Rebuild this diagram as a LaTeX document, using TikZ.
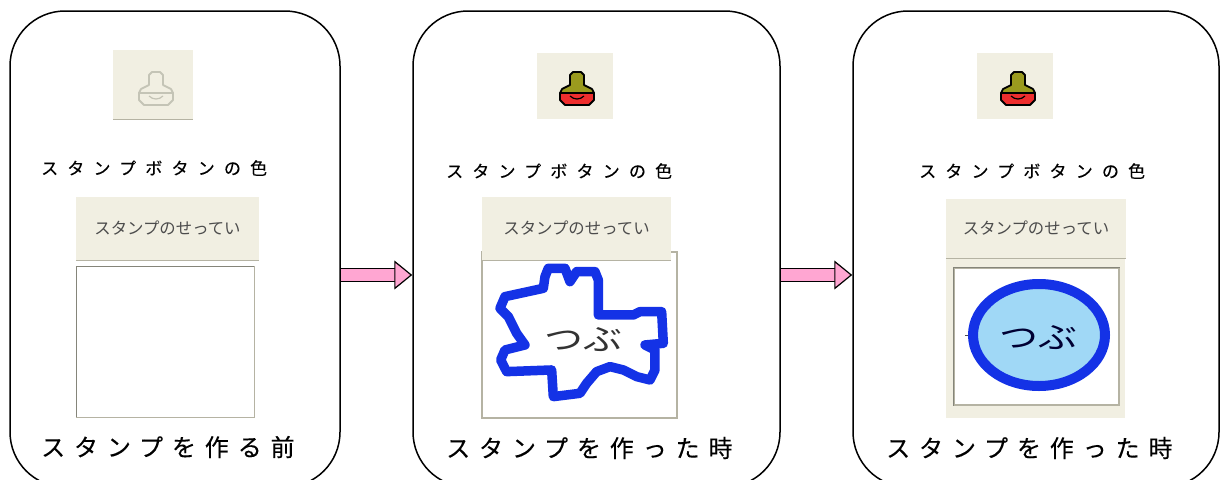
\documentclass[tikz,border=0pt]{standalone}
\usepackage{fontspec}
\usetikzlibrary{arrows.meta}
\newfontfamily\capfont[LetterSpace=54,FakeBold=0.3]{Noto Sans CJK JP}
\newfontfamily\capbigfont[LetterSpace=37,FakeBold=0.2]{Noto Sans CJK JP}
\newfontfamily\uifont{Noto Sans CJK JP}
\definecolor{btnbeige}{HTML}{F1EFE2}
\definecolor{btnedge}{HTML}{B5B3A3}
\definecolor{canvasedge}{HTML}{85857A}
\definecolor{arrowpink}{HTML}{FFA6D2}
\definecolor{stampolive}{HTML}{9A9A1E}
\definecolor{stampred}{HTML}{EE2E2E}
\definecolor{offgrey}{HTML}{C4C4B6}
\definecolor{stampblue}{HTML}{1432E6}
\definecolor{stampsky}{HTML}{A0D8F6}
\tikzset{
	panelbox/.style  = {shape=rectangle, rounded corners=55pt, draw, line width=1.5pt,
		inner sep=0pt, minimum height=476pt},
	iconbtn/.style   = {shape=rectangle, fill=btnbeige, inner sep=0pt},
	setbtn/.style    = {shape=rectangle, fill=btnbeige, inner sep=0pt,
		font=\uifont\fontsize{16.4}{17}\selectfont, text=black!70},
	canvasbox/.style = {shape=rectangle, draw=btnedge, fill=white, inner sep=0pt},
	capsmall/.style  = {anchor=west, inner sep=0pt, font=\capfont\fontsize{17}{18}\selectfont},
	capbig/.style    = {anchor=west, inner sep=0pt, font=\capbigfont\fontsize{24}{26}\selectfont},
	tsubu/.style     = {inner sep=0pt, transform shape, xscale=1.3, font=\uifont\fontsize{30}{32}\selectfont},
	pinkarrow/.style = {draw, double=arrowpink, double distance=12pt, line width=1.2pt,
		-{Triangle[length=18pt, width=29pt, fill=arrowpink, line width=1.2pt]}},
	pics/stampicon/.style n args = {3}{code={
		\draw [#3, fill=#2, line width=1.8pt, line join=round]
			(-17,5) -- (-17,12) -- (-12,17) -- (12,17) -- (17,12) -- (17,5) -- cycle;
		\draw [#3, fill=#1, line width=1.8pt, line join=round]
			(-4,-16) -- (4,-16) -- (7,-13) -- (7,-3) -- (15,1) -- (17,5) -- (-17,5)
			-- (-15,1) -- (-7,-3) -- (-7,-13) -- cycle;
		\draw [#3, line width=1.2pt] (-7,8) .. controls (-3,12) and (3,12) .. (7,8);
	}}
}
\begin{document}
\begin{tikzpicture}[x=1pt,y=-1pt]
	\useasboundingbox (0,0) rectangle (1220,479);

	% the three panels
	\node [panelbox, minimum width=330pt] (panela) at (175,249) {};
	\node [panelbox, minimum width=367pt] (panelb) at (596.5,249) {};
	\node [panelbox, minimum width=366pt] (panelc) at (1036,249) {};

	% stamp buttons
	\node [iconbtn, minimum width=80pt, minimum height=69pt] (stampa) at (153,84.5) {};
	\node [iconbtn, minimum width=76pt, minimum height=66pt] (stampb) at (575,86) {};
	\node [iconbtn, minimum width=76pt, minimum height=66pt] (stampc) at (1015,86) {};
	\draw [btnedge, line width=1.2pt] (stampa.south west) -- (stampa.south east);
	\pic at (156,88) {stampicon={btnbeige}{btnbeige}{offgrey}};
	\pic at (577,88) {stampicon={stampolive}{stampred}{black}};
	\pic at (1018,88) {stampicon={stampolive}{stampred}{black}};

	% captions
	\node [capsmall] (capa) at (41,168) {スタンプボタンの色};
	\node [capsmall] (capb) at (446,171) {スタンプボタンの色};
	\node [capsmall] (capc) at (919,171) {スタンプボタンの色};
	\node [capbig] (titlea) at (41,447) {スタンプを作る前};
	\node [capbig] (titleb) at (446,448) {スタンプを作った時};
	\node [capbig] (titlec) at (886,448) {スタンプを作った時};

	% canvas areas
	\node [canvasbox, minimum width=178pt, minimum height=151pt] (canvasa) at (165,341.5) {};
	\node [canvasbox, line width=1.2pt, minimum width=195pt, minimum height=166pt] (canvasb) at (579.5,335) {};
	\node [iconbtn, minimum width=179pt, minimum height=160pt] (framec) at (1035.5,338) {};
	\node [canvasbox, line width=1.2pt, minimum width=165pt, minimum height=137pt] (canvasc) at (1036.5,336.5) {};
	\draw [canvasedge] (canvasa.south west) -- (canvasa.north west) -- (canvasa.north east);
	\draw [canvasedge, line width=1.2pt] (canvasc.south west) -- (canvasc.north west) -- (canvasc.north east);

	% setting buttons
	\node [setbtn, minimum width=183pt, minimum height=63pt] (seta) at (167.5,228.5) {スタンプのせってい};
	\node [setbtn, minimum width=189pt, minimum height=63pt] (setb) at (576.5,228.5) {スタンプのせってい};
	\node [setbtn, minimum width=180pt, minimum height=59pt] (setc) at (1036,228.5) {スタンプのせってい};
	\draw [btnedge] (seta.south west) -- (seta.south east);
	\draw [btnedge] (setb.south west) -- (setb.south east);
	\draw [btnedge] (setc.south west) -- (setc.south east);

	% the drawn stamps
	\begin{scope}[shift={(410,0)}, scale=0.3333]
		\draw [stampblue, line width=9.5pt, line join=round]
			(405,830) -- (415,805) -- (465,805) -- (480,845) -- (500,815) -- (555,815)
			-- (565,840) -- (565,945) -- (670,945) -- (690,935) -- (755,935) -- (760,1030)
			-- (705,1035) -- (735,1050) -- (735,1110) -- (720,1140) -- (680,1130)
			-- (640,1110) -- (600,1100) -- (560,1115) -- (530,1150) -- (510,1180)
			-- (430,1190) -- (425,1110) -- (290,1115) -- (272,1080) -- (285,1050)
			-- (345,1035) -- (320,1000) -- (295,950) -- (270,925) -- (285,890)
			-- (400,865) -- cycle;
	\end{scope}
	\node [tsubu, text=black!80] (tsubub) at (583,340) {つぶ};
	\draw [stampblue, fill=stampsky, line width=10pt] (1039,335) ellipse [x radius=66, y radius=51];
	\draw [black!70] (965,335) -- (968,335);
	\node [tsubu, text=black!80!blue] (tsubuc) at (1038,338) {つぶ};

	% arrows between the panels
	\coordinate (arrowa) at (panela.east |- 0,275);
	\coordinate (arrowb) at (panelb.west |- 0,275);
	\coordinate (arrowc) at (panelb.east |- 0,275);
	\coordinate (arrowd) at (panelc.west |- 0,275);
	\draw [pinkarrow] (arrowa) -- (arrowb);
	\draw [pinkarrow] (arrowc) -- (arrowd);
\end{tikzpicture}
\end{document}
